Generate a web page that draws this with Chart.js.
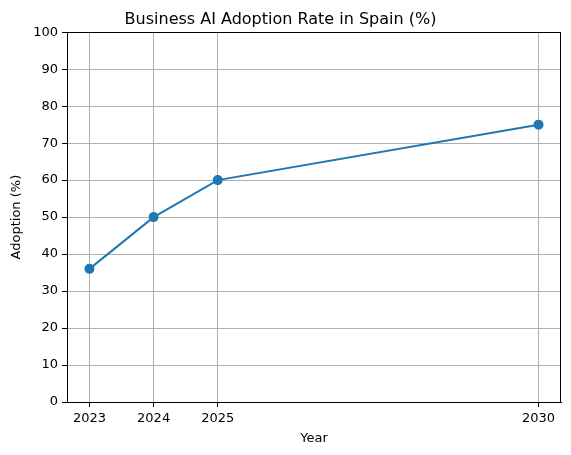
<!DOCTYPE html>
<html>
<head>
<meta charset="utf-8">
<script src="https://cdn.jsdelivr.net/npm/chart.js@4"></script>
<style>
  html, body { margin: 0; padding: 0; background: #fff; }
  canvas { display: block; }
</style>
</head>
<body>
<canvas id="chart" width="571" height="455"></canvas>
<script>
const years = [2023, 2024, 2025, 2030];
const adoption = [36, 50, 60, 75];
const yTicks = [0, 10, 20, 30, 40, 50, 60, 70, 80, 90, 100];

const FONT = "'DejaVu Sans', sans-serif";

// full box around the plot like matplotlib spines
const frame = {
    id: 'frame',
    afterDraw(chart) {
        const {ctx, chartArea: a} = chart;
        ctx.save();
        ctx.strokeStyle = '#000';
        ctx.lineWidth = 1;
        ctx.strokeRect(Math.round(a.left) + 0.5, Math.round(a.top) + 0.5,
            Math.round(a.right - a.left) - 1, Math.round(a.bottom - a.top));
        ctx.restore();
    }
};

new Chart(document.getElementById('chart'), {
    type: 'line',
    data: {
        datasets: [{
            data: years.map((y, i) => ({x: y, y: adoption[i]})),
            borderColor: '#1f77b4',
            backgroundColor: '#1f77b4',
            borderWidth: 2,
            pointRadius: 4,
            pointHoverRadius: 4,
            tension: 0
        }]
    },
    options: {
        responsive: false,
        devicePixelRatio: 1,
        animation: false,
        layout: {padding: {left: 0, right: 10, top: 0, bottom: 0}},
        plugins: {
            legend: {display: false},
            tooltip: {enabled: false},
            title: {
                display: true,
                text: 'Business AI Adoption Rate in Spain (%)',
                color: '#000',
                font: {family: FONT, size: 16, weight: 'normal'},
                padding: {top: 10, bottom: 3}
            }
        },
        scales: {
            x: {
                type: 'linear',
                min: 2022.65,
                max: 2030.35,
                afterBuildTicks: s => { s.ticks = years.map(v => ({value: v})); },
                afterFit: s => { s.height = 53; },
                grid: {color: '#b0b0b0', lineWidth: 1, tickColor: '#000', tickLength: 5},
                border: {color: '#000'},
                ticks: {
                    color: '#000', padding: 4, maxRotation: 0,
                    font: {family: FONT, size: 13},
                    callback: v => String(v)
                },
                title: {
                    display: true, text: 'Year', color: '#000',
                    font: {family: FONT, size: 13},
                    padding: {top: 0, bottom: 9}
                }
            },
            y: {
                min: 0,
                max: 100,
                afterBuildTicks: s => { s.ticks = yTicks.map(v => ({value: v})); },
                afterFit: s => { s.width = 67; },
                grid: {color: '#b0b0b0', lineWidth: 1, tickColor: '#000', tickLength: 5},
                border: {color: '#000'},
                ticks: {
                    color: '#000', padding: 4,
                    font: {family: FONT, size: 13}
                },
                title: {
                    display: true, text: 'Adoption (%)', color: '#000',
                    font: {family: FONT, size: 13},
                    padding: {top: 9, bottom: 0}
                }
            }
        }
    },
    plugins: [frame]
});
</script>
</body>
</html>
